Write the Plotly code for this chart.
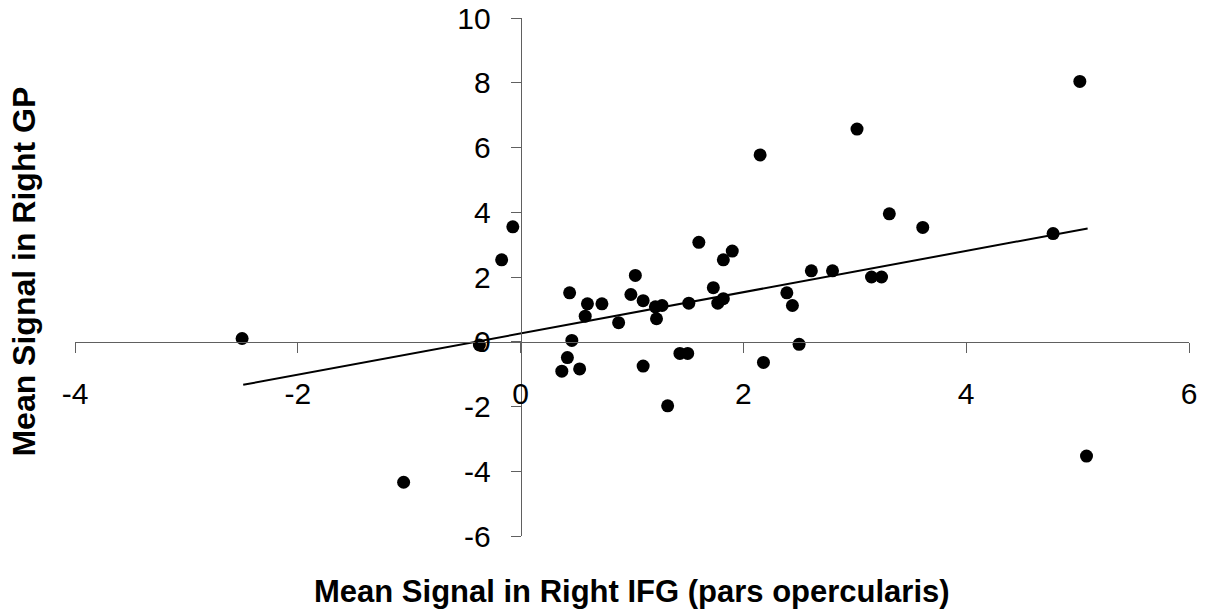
import plotly.graph_objects as go

# Data
x_vals = [-2.50, -1.05, -0.37, -0.17, -0.07, 0.37, 0.42, 0.44, 0.46, 0.53,
          0.58, 0.60, 0.73, 0.88, 0.99, 1.03, 1.10, 1.10, 1.21, 1.22,
          1.27, 1.32, 1.43, 1.50, 1.51, 1.60, 1.73, 1.77, 1.82, 1.82,
          1.90, 2.15, 2.18, 2.39, 2.44, 2.50, 2.61, 2.80, 3.02, 3.15,
          3.24, 3.31, 3.61, 4.78, 5.02, 5.08]
y_vals = [0.10, -4.34, -0.10, 2.53, 3.55, -0.91, -0.49, 1.51, 0.04, -0.84,
          0.79, 1.17, 1.17, 0.59, 1.46, 2.05, 1.27, -0.75, 1.08, 0.71,
          1.12, -1.98, -0.36, -0.36, 1.19, 3.07, 1.67, 1.19, 1.33, 2.53,
          2.80, 5.77, -0.64, 1.51, 1.12, -0.08, 2.19, 2.19, 6.57, 2.00,
          2.00, 3.95, 3.53, 3.34, 8.04, -3.53]
trend_x = [-2.49, 5.09]
trend_y = [-1.33, 3.50]

x_ticks = [-4, -2, 0, 2, 4, 6]
y_ticks = [-6, -4, -2, 0, 2, 4, 6, 8, 10]
x_range = [-4, 6]
y_range = [-6, 10]

x_title = "Mean Signal in Right IFG (pars opercularis)"
y_title = "Mean Signal in Right GP"

fig = go.Figure()
fig.add_trace(go.Scatter(x=x_vals, y=y_vals, mode="markers",
                         marker=dict(color="black", size=13), showlegend=False))
fig.add_trace(go.Scatter(x=trend_x, y=trend_y, mode="lines",
                         line=dict(color="black", width=2), showlegend=False))

axis_color = "#606060"
font_family = "Liberation Sans, Arial, sans-serif"

fig.update_layout(
    width=1214, height=613,
    margin=dict(l=75, r=25, t=18, b=77, autoexpand=False),
    plot_bgcolor="white", paper_bgcolor="white",
    font=dict(family=font_family, size=30, color="black"),
    xaxis=dict(range=x_range, tickvals=x_ticks, ticktext=[str(v) for v in x_ticks],
               showgrid=False, zeroline=False, showline=True, linecolor=axis_color,
               linewidth=1, ticks="outside", ticklen=10, tickcolor=axis_color,
               anchor="free", position=(0 - y_range[0]) / (y_range[1] - y_range[0]),
               ticklabelstandoff=15, automargin=False),
    yaxis=dict(range=y_range, tickvals=y_ticks, ticktext=[str(v) for v in y_ticks],
               showgrid=False, zeroline=False, showline=True, linecolor=axis_color,
               linewidth=1, ticks="outside", ticklen=10, tickcolor=axis_color,
               anchor="free", position=(0 - x_range[0]) / (x_range[1] - x_range[0]),
               ticklabelstandoff=14, automargin=False),
    annotations=[
        dict(text=f"<b>{x_title}</b>", xref="paper", yref="paper",
             x=0.5, y=-0.108, xanchor="center", yanchor="middle",
             showarrow=False, font=dict(size=31, family=font_family)),
        dict(text=f"<b>{y_title}</b>", xref="paper", yref="paper",
             x=-0.046, y=0.51, xanchor="center", yanchor="middle", textangle=-90,
             showarrow=False, font=dict(size=32, family=font_family)),
    ],
)

fig.write_html("out.html")
